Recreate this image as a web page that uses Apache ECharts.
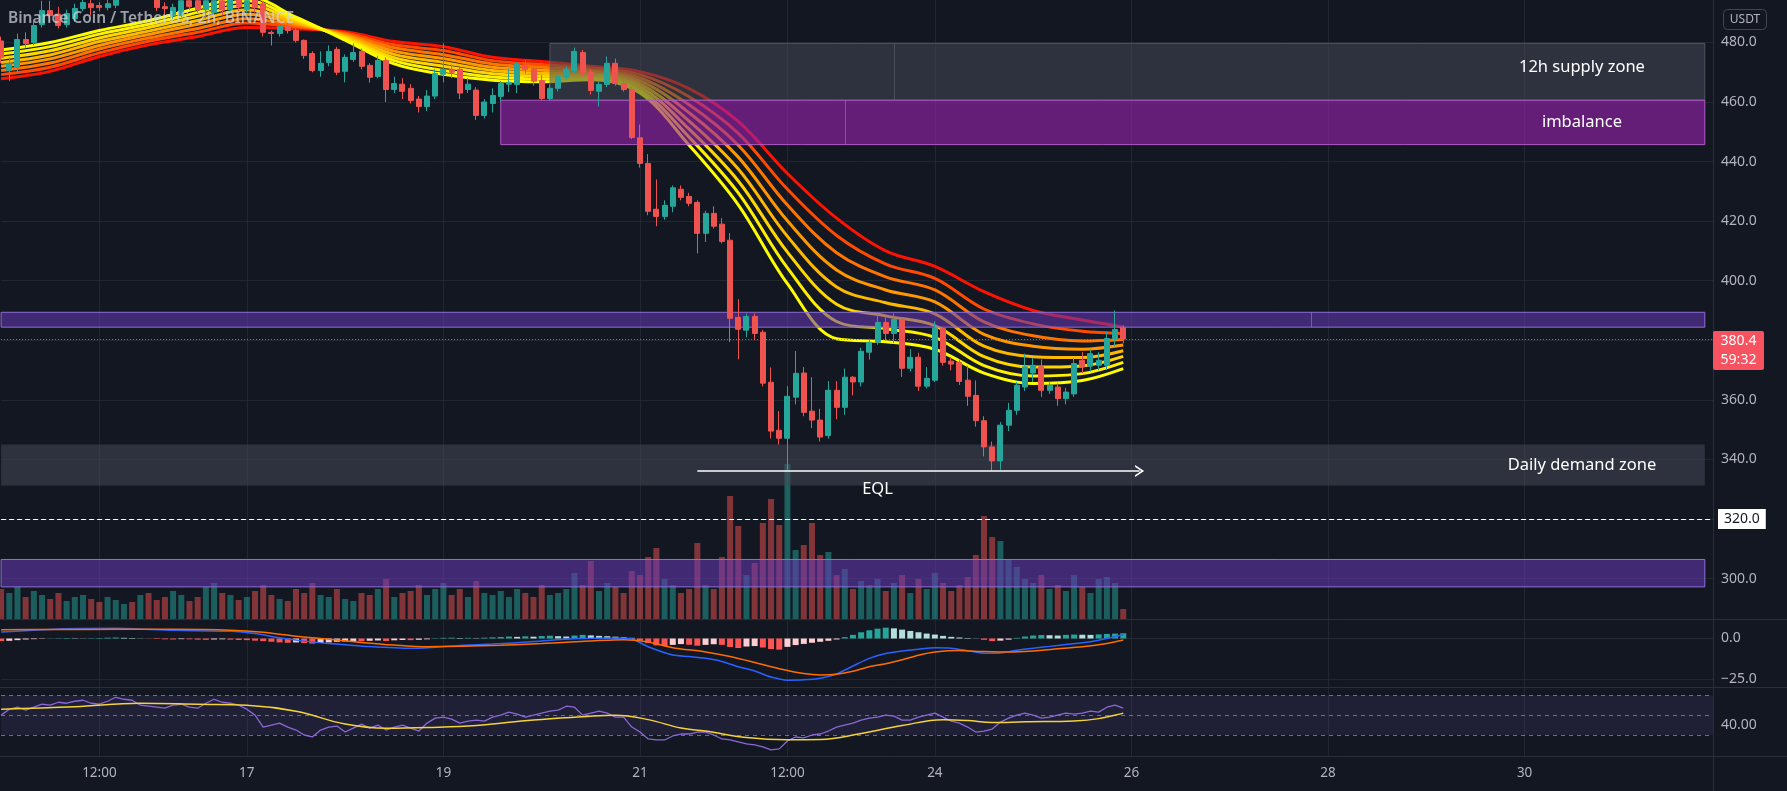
<!DOCTYPE html>
<html>
<head>
<meta charset="utf-8">
<script src="https://cdn.jsdelivr.net/npm/echarts/dist/echarts.min.js"></script>
<style>
html,body{margin:0;padding:0;background:#131722;overflow:hidden;}
#c{width:1787px;height:791px;}
</style>
</head>
<body>
<div id="c"></div>
<script>
// ---------------- DATA ----------------
const opens  = [480.5,470.5,471.6,481.0,480.0,486.0,490.7,489.5,486.0,488.0,491.4,493.0,492.4,491.7,492.5,496.0,499.0,497.0,500.0,496.0,492.0,489.0,489.0,494.0,494.0,491.0,490.0,494.0,491.0,495.0,491.0,495.0,493.0,483.4,483.0,485.4,484.0,480.7,476.3,470.6,473.3,477.7,470.3,474.3,477.0,472.3,468.6,474.0,464.2,466.0,464.6,461.0,458.5,462.0,469.3,471.0,471.0,464.2,464.0,455.5,459.5,461.9,466.0,465.9,472.3,471.0,467.2,461.2,464.6,468.3,470.6,476.6,470.0,463.6,465.9,473.0,466.2,464.2,448.0,439.4,424.0,421.6,425.0,430.7,428.3,426.3,415.9,422.6,419.0,413.6,387.7,383.4,388.0,382.7,365.9,349.8,347.1,360.9,369.0,356.2,353.2,348.0,363.2,357.5,367.6,366.0,376.0,379.3,386.0,382.3,387.0,370.6,374.3,364.6,366.6,384.0,373.0,372.6,366.6,361.5,353.0,344.2,339.5,351.5,356.5,364.3,369.0,371.1,363.2,364.3,360.4,362.0,373.3,371.3,371.6,371.6,380.6,384.2];
const closes = [475.0,473.0,481.0,479.6,485.7,490.7,489.0,485.7,489.7,491.4,493.4,491.7,491.7,493.0,496.0,499.0,497.0,500.0,496.0,491.7,491.4,491.7,494.0,492.0,491.0,494.0,494.0,491.0,495.0,492.0,494.0,491.7,483.4,483.0,485.4,484.0,480.7,475.6,470.6,473.0,477.0,470.0,475.0,476.6,472.0,468.3,474.0,464.2,466.2,463.6,460.5,458.5,462.0,469.6,471.0,470.0,463.0,466.0,455.5,460.0,462.2,466.2,466.6,472.6,471.0,467.0,461.2,464.6,468.6,471.0,477.0,469.9,463.9,465.9,473.0,466.2,464.2,448.1,439.4,423.3,421.6,425.3,431.2,428.0,426.0,415.9,422.6,418.3,413.2,387.4,383.7,388.0,382.3,365.6,349.5,347.1,361.2,368.9,355.8,353.2,347.5,363.2,357.5,367.6,366.0,376.3,379.3,386.0,382.3,387.0,370.6,374.3,364.6,367.2,384.0,372.6,372.0,366.2,361.2,353.0,344.2,339.5,351.5,356.5,364.9,371.1,371.6,363.2,364.9,360.4,362.6,372.2,371.1,375.5,373.3,380.6,383.6,380.4];
const highs  = [482.0,475.0,483.0,483.4,487.0,494.0,494.0,492.0,491.0,493.0,496.0,495.0,493.5,494.5,498.0,501.0,500.5,502.0,501.0,497.5,493.5,493.0,496.0,497.0,496.0,496.0,497.0,497.0,498.0,498.0,496.0,497.0,494.0,484.0,486.5,487.0,485.0,481.0,477.0,477.0,479.0,478.5,476.0,479.7,478.0,473.0,475.5,475.0,468.5,468.0,466.0,462.0,464.0,471.0,479.7,472.5,472.0,468.0,465.0,461.0,464.6,467.0,471.3,473.5,474.0,472.0,469.0,466.0,469.5,472.0,478.3,477.5,471.0,467.0,475.3,474.6,467.5,465.0,452.5,442.5,434.0,427.0,432.0,432.0,429.5,427.0,423.5,425.0,421.0,416.0,393.8,389.0,389.0,383.5,370.9,356.2,364.6,376.4,371.0,367.6,357.0,366.3,366.3,370.5,368.0,377.5,380.5,389.0,388.0,389.0,387.8,377.0,375.8,371.0,386.4,384.5,374.4,373.5,371.5,366.5,354.5,346.0,352.5,359.0,366.0,375.5,374.0,373.5,366.0,365.5,364.0,374.0,376.0,377.0,376.0,383.0,390.0,385.0];
const lows   = [473.0,467.0,470.0,478.0,479.0,485.0,487.0,484.7,485.0,487.0,490.5,489.0,490.5,490.8,491.5,495.0,495.5,496.0,494.5,490.5,489.5,488.0,488.5,491.0,490.0,488.0,489.0,489.0,490.0,490.0,490.0,490.0,482.0,479.0,482.0,483.0,480.0,474.5,470.0,468.5,472.0,469.0,466.6,473.5,471.0,466.5,468.0,460.0,463.0,461.0,459.5,456.5,457.0,461.0,466.6,468.0,461.0,463.0,454.0,454.5,456.5,460.0,463.3,463.0,469.5,465.5,460.5,460.5,463.5,467.5,469.5,468.5,462.5,458.5,465.0,465.5,463.5,447.5,438.0,422.0,418.3,420.5,423.0,427.0,425.0,409.2,413.0,417.5,412.5,379.4,373.6,381.0,380.0,364.5,347.0,345.0,336.5,358.5,354.5,350.5,346.0,347.0,353.5,355.0,361.5,364.5,373.5,378.5,380.0,379.0,367.7,369.5,363.0,363.8,366.0,371.5,369.9,365.0,358.0,351.0,341.0,336.3,336.5,349.5,355.0,363.0,366.0,361.0,362.0,358.0,358.5,361.0,369.0,369.5,370.0,370.0,378.0,379.0];
// volume bar heights (relative units)
const volumes = [30,26,32,22,28,24,20,26,18,22,24,20,17,22,19,15,17,24,26,19,22,28,24,18,22,32,36,26,24,19,
 22,28,34,24,20,18,30,26,36,24,22,30,20,18,26,24,30,40,22,26,28,34,24,30,36,24,30,22,38,26,
 24,28,22,30,26,22,34,24,26,30,46,34,58,28,36,32,26,48,44,62,
 71,40,34,26,30,76,34,30,62,123,93,44,56,96,120,94,155,69,74,96,
 64,67,44,50,30,38,34,40,28,36,44,26,40,30,46,36,28,34,42,64,103,82,
 78,60,52,40,36,44,30,34,28,44,32,26,40,42,36,10];

// EMA ribbon (8 lines, fast -> slow), read at these candle indices
const ribbonIdx = [0,6,12,18,24,30,36,42,48,54,60,66,72,78,84,90,96,102,108,114,120,126,132,137];
const ema1 = [477.5,480.0,484.0,487.3,491.5,495.5,488.5,480.8,472.8,469.3,467.3,466.8,467.5,463.0,445.5,425.5,399.0,380.5,379.5,377.0,369.0,365.5,366.5,370.5];
const ema2 = [476.1,478.6,482.8,486.1,490.1,494.0,487.9,481.2,473.9,470.6,468.4,467.8,468.1,464.0,448.2,429.5,404.3,386.3,383.9,381.0,371.5,368.0,368.8,372.6];
const ema3 = [474.7,477.2,481.5,485.0,488.8,492.5,487.4,481.6,474.9,472.0,469.5,468.7,468.8,465.1,450.9,433.5,409.6,392.1,388.2,384.9,374.5,371.0,371.4,374.6];
const ema4 = [473.3,475.8,480.3,483.8,487.4,491.0,486.8,482.0,476.0,473.3,470.6,469.7,469.4,466.1,453.6,437.5,414.9,397.9,392.6,388.9,378.0,374.5,374.2,376.5];
const ema5 = [472.0,474.5,479.0,482.7,486.1,489.5,486.3,482.4,477.1,474.6,471.7,470.7,470.1,467.1,456.4,441.5,420.1,403.6,396.9,392.9,382.0,378.0,377.0,378.4];
const ema6 = [470.6,473.1,477.8,481.5,484.7,488.0,485.7,482.8,478.2,475.9,472.8,471.7,470.7,468.1,459.1,445.5,425.4,409.4,401.3,396.9,386.2,381.5,379.8,380.3];
const ema7 = [469.2,471.7,476.5,480.4,483.4,486.5,485.2,483.2,479.2,477.3,473.9,472.6,471.4,469.2,461.8,449.5,430.7,415.2,405.6,400.8,390.5,385.5,383.0,382.3];
const ema8 = [467.8,470.3,475.3,479.2,482.0,485.0,484.6,483.6,480.3,478.6,475.0,473.6,472.0,470.2,464.5,453.5,436.0,421.0,410.0,404.8,396.3,390.0,386.8,384.5];

// MACD
const macdIdx = [0,7,14,21,28,31,34,37,40,45,50,53,56,60,65,70,75,77,79,82,84,86,88,90,92,94,96,98,100,102,104,106,108,110,112,114,116,118,120,122,124,126,128,130,132,134,136,137];
const macdVals = [3.9,5.8,6.2,5.0,4.4,3.0,0.4,-1.6,-3.0,-4.9,-6.0,-5.3,-4.3,-3.4,-1.9,-0.2,0.3,-0.3,-5.0,-10.1,-11.0,-12.1,-14.0,-17.2,-19.8,-23.5,-25.4,-25.2,-24.2,-21.6,-16.8,-12.1,-9.2,-7.6,-6.5,-5.6,-5.9,-7.4,-9.0,-8.8,-7.2,-5.9,-4.8,-3.6,-2.6,-1.0,1.2,2.3];
const signalIdx = [0,7,14,21,28,32,36,40,44,48,52,56,61,66,70,76,79,82,86,89,92,95,98,100,102,104,106,108,110,112,114,117,120,123,126,129,132,135,137];
const signalVals = [5.4,5.5,5.6,5.6,5.1,3.8,1.4,-0.4,-2.4,-4.0,-5.0,-4.8,-4.1,-3.1,-2.0,-0.8,-2.2,-5.6,-8.2,-11.0,-14.6,-18.4,-21.4,-22.3,-21.8,-20.0,-17.2,-15.4,-13.0,-10.2,-8.2,-7.3,-8.0,-8.3,-7.6,-6.3,-5.0,-3.0,-0.9];
const histVals = [-1.6,-1.4,-1.0,
 -0.6,-0.4,-0.2,0.1,0.2,0.3,0.2,0.1,0.2,0.3,
 0.5,0.6,0.4,0.3,0.1,-0.1,
 -0.3,-0.5,-0.6,-0.4,-0.5,-0.7,-0.8,-0.6,-0.5,-0.7,-0.9,-1.0,-1.3,
 -1.6,-2.0,-2.4,-2.6,-2.4,-2.8,-3.1,-2.7,
 -2.4,-2.0,-1.8,-1.5,-1.7,-1.4,-1.2,-1.5,-1.1,-0.9,-1.0,-0.8,-0.5,
 0.2,0.4,0.5,0.3,0.4,0.2,0.5,0.7,0.9,
 1.2,1.0,1.3,1.1,1.5,1.7,1.4,1.2,1.8,2.2,1.9,1.6,
 1.4,1.1,0.8,0.4,
 -1.2,-2.8,-4.2,-4.6,-3.9,-3.4,-3.8,-4.4,-3.9,-3.5,-3.9,-5.2,-5.8,-4.9,-4.6,-5.5,-6.4,-6.8,-5.1,-4.0,-3.3,-2.6,-2.0,-1.4,-0.6,
 0.8,2.2,3.8,5.0,6.0,6.6,6.2,5.4,4.6,3.8,3.0,2.4,
 1.6,1.0,0.6,0.3,0.1,
 -0.8,-1.6,-1.3,-0.7,
 0.4,1.2,1.8,2.1,2.0,1.8,2.2,2.4,2.3,2.2,2.5,2.8,3.0,3.2];

// RSI
const rsiVals = [50,56,58,55,58,61,60,63,62,64,65,62,61,64,68,66,65,60,59,58,57,60,61,58,57,62,66,63,62,60,56,50,38,40,42,38,35,30,28,35,38,39,33,37,41,37,40,35,38,40,37,34,42,47,48,46,42,44,45,44,48,50,53,51,48,50,52,54,55,59,58,50,52,54,52,48,48,38,33,26,25,25,29,31,31,33,33,30,26,25,23,21,20,18,15,16,24,28,27,30,31,34,38,40,42,45,47,48,50,49,45,45,48,50,52,48,44,42,38,33,34,36,43,47,50,52,50,47,48,50,52,51,52,54,53,58,60,57];
const rsiMaIdx = [0,9,17,24,30,36,42,47,52,58,65,71,75,79,83,86,91,96,100,105,110,115,118,121,125,131,134,137];
const rsiMaVals = [56,58.4,62,61,60,54,41,36.8,37.5,39.5,45.2,48.4,50,45.5,37,34,27.5,25.2,25.4,31.5,39.5,45.4,44.5,42.5,43.3,44.2,46.5,52];

// time axis
const slotCount = 210;
const timeTickIdx = [12,30,54,78,96,114,138,162,186];
const timeTickLabels = ['12:00','17','19','21','12:00','24','26','28','30'];

// zones: [fromIdx, toIdx, low, high, innerEdgeIdx]
const supplyZone = [67, 208, 460.6, 479.7, 109];
const imbalanceZone = [61, 208, 445.7, 460.6, 103];
const upperBand = [0, 208, 384.4, 389.4, 160];
const demandZone = [0, 208, 331.2, 345.0];
const lowerBand = [0, 208, 297.2, 306.4];
const eqlLevel = 336.1;
const eqlRange = [85, 139];
const alertLevel = 320;
const zoneLabels = ['12h supply zone','imbalance','Daily demand zone','EQL'];
const zoneLabelIdx = [193, 193, 193, 107];
const zoneLabelPrice = [471.8, 453.3, 338.1, 330.1];
const currencyText = 'USDT';
const countdown = '59:32';
const titleText = 'Binance Coin / TetherUS, 2h, BINANCE';

// ---------------- CHART ----------------
const chart = echarts.init(document.getElementById('c'));
const categories = Array.from({length: slotCount}, (_, i) => String(i));
const tickMap = {};
timeTickIdx.forEach((k, j) => { tickMap[k] = timeTickLabels[j]; });

const GL = 1.1, GR = 74;
const gridC = 'rgba(42,46,57,0.65)';
const font = '"Noto Sans", "DejaVu Sans", sans-serif';
const grids = [
  {left: GL, right: GR, top: 0, height: 756},
  {left: GL, right: GR, top: -17.1, height: 655.2},
  {left: GL, right: GR, top: 439, height: 180},
  {left: GL, right: GR, top: 638.5, height: 41},
  {left: GL, right: GR, top: 695.3, height: 39.7}
].map(g => Object.assign(g, {containLabel: false, outerBoundsMode: 'none'}));

const xAxes = grids.map((g, k) => ({
  type: 'category', gridIndex: k, data: categories, boundaryGap: false,
  show: k === 0,
  axisLine: {show: false}, axisTick: {show: false},
  axisLabel: {
    show: k === 0,
    interval: (i) => tickMap[i] !== undefined,
    formatter: (v, i) => tickMap[i] || '',
    color: '#b2b5be', fontSize: 13.5, margin: 10, fontFamily: font
  },
  splitLine: {show: k === 0, interval: (i) => tickMap[i] !== undefined, lineStyle: {color: gridC, width: 1}}
}));

const yLabel = {color: '#b2b5be', fontSize: 14, margin: 8, fontFamily: font};
const yAxes = [
  {gridIndex: 0, type: 'value', show: false, min: 0, max: 1, splitLine: {show: false}},
  {gridIndex: 1, type: 'value', position: 'right', min: 280, max: 500, interval: 20,
   axisLine: {show: false}, axisTick: {show: false},
   axisLabel: Object.assign({formatter: v => (v < 300 || v > 480) ? '' : v.toFixed(1)}, yLabel),
   splitLine: {lineStyle: {color: gridC, width: 1}}},
  {gridIndex: 2, type: 'value', show: false, min: 0, max: 180, splitLine: {show: false}},
  {gridIndex: 3, type: 'value', position: 'right', min: -25, max: 0, interval: 25,
   axisLine: {show: false}, axisTick: {show: false},
   axisLabel: Object.assign({formatter: v => v === 0 ? '0.0' : '\u221225.0'}, yLabel),
   splitLine: {lineStyle: {color: gridC, width: 1}}},
  {gridIndex: 4, type: 'value', position: 'right', min: 30, max: 70, interval: 10,
   axisLine: {show: false}, axisTick: {show: false},
   axisLabel: Object.assign({formatter: v => v === 40 ? '40.00' : ''}, yLabel),
   splitLine: {show: false}}
];

const ribbonColors = ['#ffff00','#fff000','#ffd600','#ffb800','#ff9800','#ff7400','#ff4a00','#ff1200'];
const ribbonSets = [ema1, ema2, ema3, ema4, ema5, ema6, ema7, ema8];
const ribbonSeries = ribbonSets.map((arr, k) => ({
  type: 'line', xAxisIndex: 1, yAxisIndex: 1, z: 2, silent: true,
  data: ribbonIdx.map((ix, j) => [ix, arr[j]]),
  smooth: 0.35, symbol: 'none', clip: false,
  lineStyle: {width: 3, color: ribbonColors[k]}
})).reverse();

const UP = '#26a69a', DN = '#ef5350';
const candleData = opens.map((o, i) => [o, closes[i], lows[i], highs[i]]);
const volData = volumes.map((v, i) => ({value: v, itemStyle: {color: closes[i] >= opens[i] ? 'rgba(38,166,154,0.5)' : 'rgba(239,83,80,0.5)'}}));
const histData = histVals.map((h, i) => {
  const prev = i > 0 ? histVals[i - 1] : h;
  let c;
  if (h >= 0) c = h >= prev ? '#26a69a' : '#b2dfdb';
  else c = h <= prev ? '#ff5252' : '#ffcdd2';
  return {value: h, itemStyle: {color: c}};
});

function zoneArea(z, fill, border) {
  return [{xAxis: z[0], yAxis: z[3], itemStyle: {color: fill, borderColor: border, borderWidth: 1}},
          {xAxis: z[1], yAxis: z[2]}];
}
function innerEdge(z, color) {
  return [{coord: [z[4], z[2]], symbol: 'none'},
          {coord: [z[4], z[3]], symbol: 'none', lineStyle: {color: color, width: 1, type: 'solid'}, label: {show: false}}];
}
const chevron = 'path://M0,10 L5,0 L10,10 L8.4,10 L5,3.2 L1.6,10 Z';

const option = {
  backgroundColor: '#131722',
  animation: false,
  title: {text: titleText, left: 3, top: 6, z: 20, padding: 5,
    textStyle: {color: 'rgba(209,212,220,0.72)', fontSize: 15.5, fontWeight: 600, fontFamily: font}},
  grid: grids,
  xAxis: xAxes,
  yAxis: yAxes,
  series: [
    ...ribbonSeries,
    {type: 'bar', xAxisIndex: 2, yAxisIndex: 2, z: 1, silent: true, barWidth: 6, data: volData},
    {type: 'candlestick', xAxisIndex: 1, yAxisIndex: 1, z: 4, silent: true, barWidth: 5.5,
     data: candleData,
     itemStyle: {color: UP, color0: DN, borderColor: UP, borderColor0: DN, borderWidth: 1},
     markArea: {z: 3, silent: true, label: {show: false},
       data: [
         zoneArea(supplyZone, 'rgba(70,73,86,0.55)', 'rgba(110,113,124,0.6)'),
         zoneArea(imbalanceZone, 'rgba(150,36,172,0.62)', 'rgba(186,96,210,0.9)'),
         zoneArea(upperBand, 'rgba(103,58,183,0.55)', 'rgba(140,110,215,1)'),
         zoneArea(demandZone, 'rgba(70,73,86,0.55)', 'rgba(70,73,86,0.0)'),
         zoneArea(lowerBand, 'rgba(103,58,183,0.55)', 'rgba(140,110,215,1)')
       ]},
     markLine: {z: 5, silent: true, symbol: ['none', 'none'], animation: false,
       data: [
         {yAxis: alertLevel, lineStyle: {color: '#ffffff', type: [5, 3], width: 1},
          label: {show: true, position: 'end', distance: 5, formatter: alertLevel.toFixed(1),
            backgroundColor: '#ffffff', color: '#131722', padding: [3, 6, 3, 6], fontSize: 14, fontFamily: font}},
         {yAxis: closes[closes.length - 1], lineStyle: {color: '#ef5350', type: [1, 2], width: 1},
          label: {show: false}},
         [{coord: [eqlRange[0], eqlLevel], symbol: 'none'},
          {coord: [eqlRange[1], eqlLevel], symbol: chevron, symbolSize: [12, 9],
           lineStyle: {color: '#ffffff', width: 1.5, type: 'solid'}, label: {show: false}}],
         innerEdge(supplyZone, 'rgba(110,113,124,0.45)'),
         innerEdge(imbalanceZone, 'rgba(186,96,210,0.6)'),
         innerEdge(upperBand, 'rgba(140,110,215,0.7)')
       ]},
     markPoint: {z: 6, silent: true, symbol: 'circle', symbolSize: 1,
       itemStyle: {color: 'rgba(0,0,0,0)'},
       label: {show: true, position: 'inside', formatter: '{b}', color: '#ffffff', fontSize: 16.5, fontFamily: font},
       data: zoneLabels.map((t, j) => ({name: t, coord: [zoneLabelIdx[j], zoneLabelPrice[j]]}))}
    },
    {type: 'bar', xAxisIndex: 3, yAxisIndex: 3, z: 2, silent: true, barWidth: 6, clip: false, data: histData},
    {type: 'line', xAxisIndex: 3, yAxisIndex: 3, z: 3, silent: true, clip: false, symbol: 'none', smooth: 0.25,
     data: macdIdx.map((ix, j) => [ix, macdVals[j]]), lineStyle: {color: '#2962ff', width: 1.5}},
    {type: 'line', xAxisIndex: 3, yAxisIndex: 3, z: 3, silent: true, clip: false, symbol: 'none', smooth: 0.25,
     data: signalIdx.map((ix, j) => [ix, signalVals[j]]), lineStyle: {color: '#ff6d00', width: 1.5}},
    {type: 'line', xAxisIndex: 4, yAxisIndex: 4, z: 3, silent: true, clip: false, symbol: 'none',
     data: rsiVals.map((v, i) => [i, v]), lineStyle: {color: '#8b68d6', width: 1.3},
     markArea: {silent: true, z: 1, itemStyle: {color: 'rgba(126,87,194,0.12)'},
       data: [[{xAxis: 0, yAxis: 70}, {xAxis: slotCount - 1, yAxis: 30}]]},
     markLine: {silent: true, symbol: ['none', 'none'], z: 2,
       lineStyle: {color: 'rgba(135,138,150,0.8)', type: [4, 4], width: 1}, label: {show: false},
       data: [{yAxis: 70}, {yAxis: 50}, {yAxis: 30}]}},
    {type: 'line', xAxisIndex: 4, yAxisIndex: 4, z: 4, silent: true, clip: false, symbol: 'none', smooth: 0.4,
     data: rsiMaIdx.map((ix, j) => [ix, rsiMaVals[j]]), lineStyle: {color: '#f5d33b', width: 1.5}}
  ]
};
chart.setOption(option);

// overlay elements (pane separators, price badges)
const lastClose = closes[closes.length - 1];
const yLast = chart.convertToPixel({yAxisIndex: 1}, lastClose);
const sep = '#2a2e39';
chart.setOption({
  graphic: [
    {type: 'line', z: 20, silent: true, shape: {x1: 0, y1: 619.5, x2: 1787, y2: 619.5}, style: {stroke: sep, lineWidth: 1}},
    {type: 'line', z: 20, silent: true, shape: {x1: 0, y1: 687.5, x2: 1787, y2: 687.5}, style: {stroke: sep, lineWidth: 1}},
    {type: 'line', z: 20, silent: true, shape: {x1: 0, y1: 756.5, x2: 1787, y2: 756.5}, style: {stroke: sep, lineWidth: 1}},
    {type: 'line', z: 20, silent: true, shape: {x1: 1713.5, y1: 0, x2: 1713.5, y2: 791}, style: {stroke: sep, lineWidth: 1}},
    {type: 'rect', z: 20, silent: true, shape: {x: 1723.5, y: 9.5, width: 43, height: 20, r: 4},
     style: {fill: '#131722', stroke: '#434651', lineWidth: 1}},
    {type: 'text', z: 21, silent: true, x: 1745, y: 19.5,
     style: {text: currencyText, fill: '#b2b5be', font: '12px ' + font, align: 'center', verticalAlign: 'middle'}},
    {type: 'rect', z: 20, silent: true, shape: {x: 1713, y: yLast - 8, width: 51, height: 39, r: 2},
     style: {fill: '#f7525f'}},
    {type: 'text', z: 21, silent: true, x: 1738.5, y: yLast + 1.5,
     style: {text: lastClose.toFixed(1), fill: '#ffffff', font: '14px ' + font, align: 'center', verticalAlign: 'middle'}},
    {type: 'text', z: 21, silent: true, x: 1738.5, y: yLast + 20.5,
     style: {text: countdown, fill: '#ffffff', font: '14px ' + font, align: 'center', verticalAlign: 'middle'}}
  ]
});
</script>
</body>
</html>
